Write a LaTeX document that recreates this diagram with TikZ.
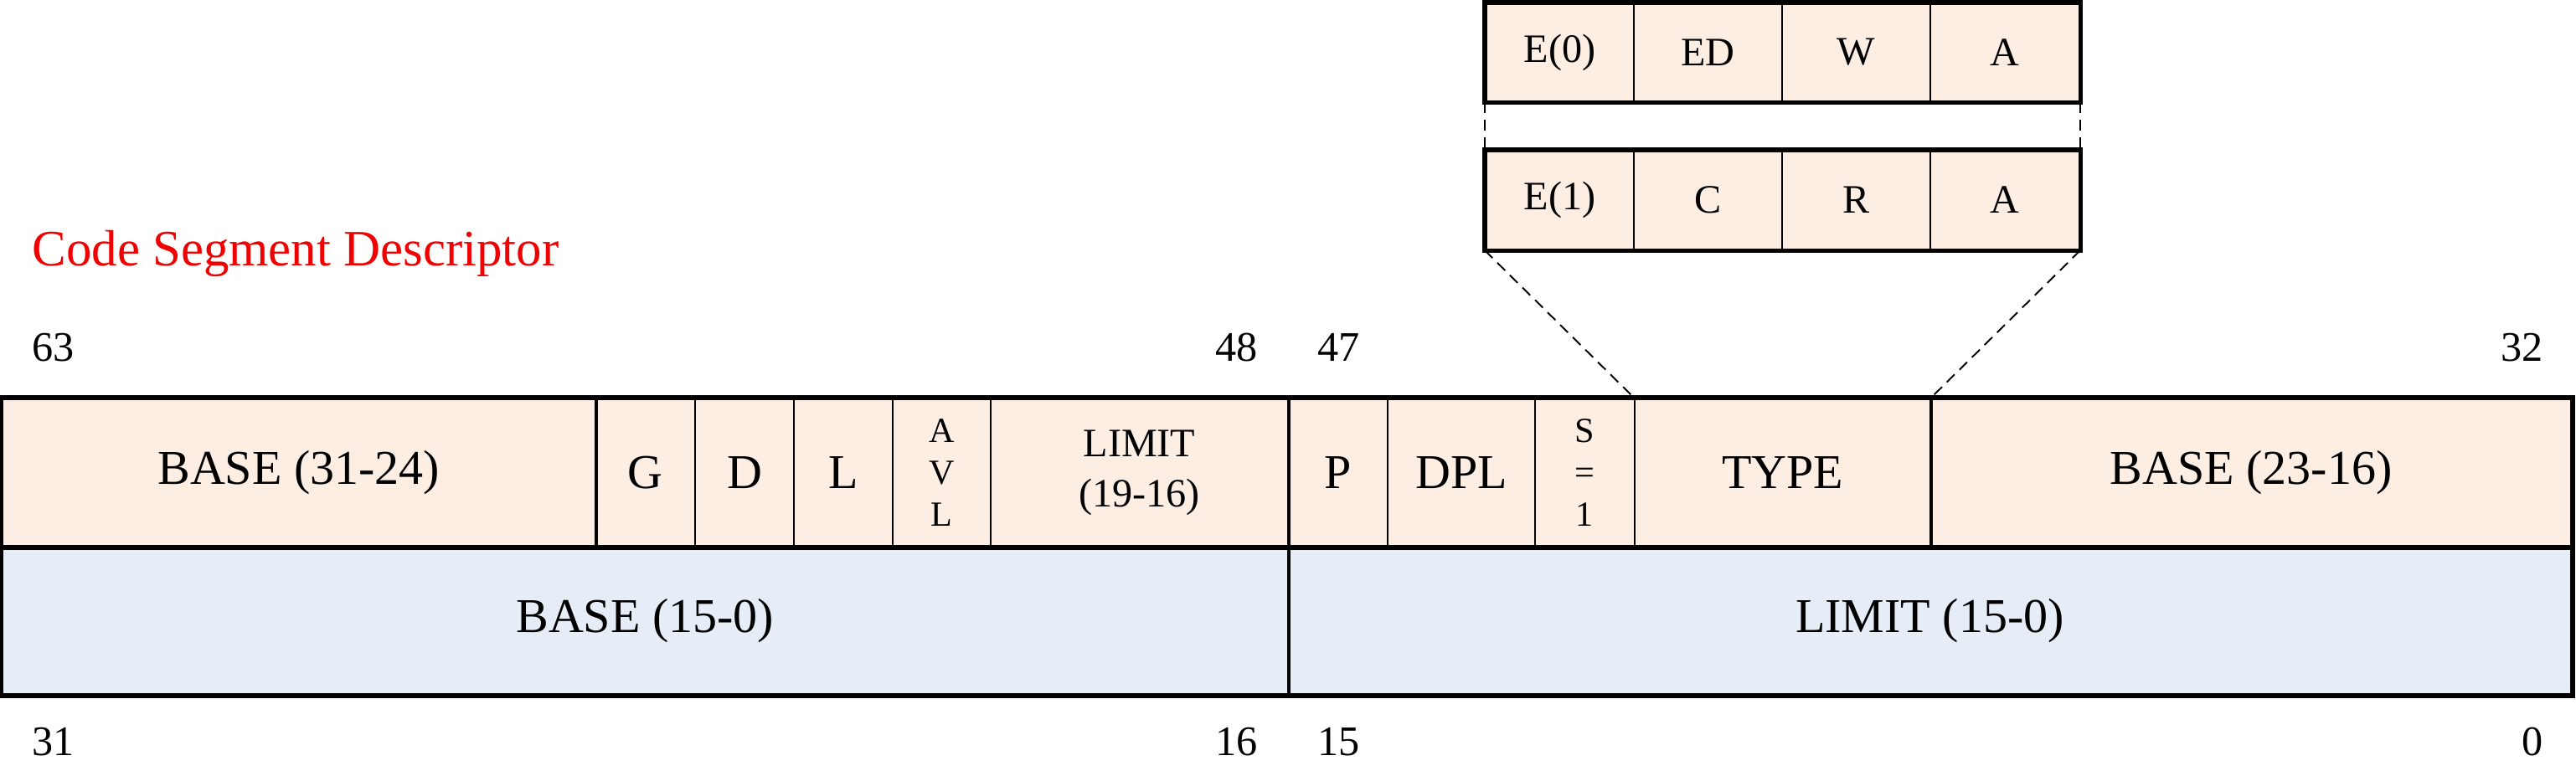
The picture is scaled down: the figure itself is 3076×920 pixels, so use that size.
\documentclass[tikz,border=0pt]{standalone}
\usepackage{fontspec}
\setmainfont{Liberation Serif}
\definecolor{peach}{HTML}{FDEEE3}
\definecolor{paleblue}{HTML}{E6EDF7}
\definecolor{titlered}{HTML}{F00000}
\begin{document}
\begin{tikzpicture}[x=0.01cm,y=-0.01cm,
  cell/.style={draw=black, line width=0.6pt, inner sep=0pt, align=center, font=\fontsize{16.5}{19}\selectfont},
  toprow/.style={cell, fill=peach, minimum height=1.77cm},
  botrow/.style={cell, fill=paleblue, minimum height=1.77cm},
  typecell/.style={cell, fill=peach, font=\fontsize{13.7}{16}\selectfont},
  cw/.style={minimum width=#1*0.01cm},
  ch/.style={minimum height=#1*0.01cm},
  frame/.style={line width=1.5pt},
  smallframe/.style={line width=1.45pt},
  divider/.style={line width=1.2pt},
  zoomline/.style={line width=0.55pt, dash pattern=on 3.7pt off 2.3pt},
  bitlabel/.style={inner sep=0pt, font=\fontsize{14.3}{17}\selectfont},
  ]
\useasboundingbox (0,0) rectangle (3076,920);

% title
\node[anchor=base west, inner sep=0pt, text=titlered, font=\fontsize{17.3}{20}\selectfont] (title) at (38,317) {Code Segment Descriptor};

% top row
\node[toprow, cw=708.5] (b3124) at (356.75,564.5) {BASE (31-24)};
\node[toprow, cw=119] (g) at (770.5,564.5) {G};
\node[toprow, cw=118] (d) at (889,564.5) {D};
\node[toprow, cw=118] (l) at (1007,564.5) {L};
\node[toprow, cw=117, font=\fontsize{12}{14.2}\selectfont] (avl) at (1124.5,564.5) {A\\V\\L};
\node[toprow, cw=355, font=\fontsize{13.7}{17}\selectfont] (l1916) at (1360.5,564.5) {LIMIT\\(19-16)};
\node[toprow, cw=119] (p) at (1597.5,564.5) {P};
\node[toprow, cw=176] (dpl) at (1745,564.5) {DPL};
\node[toprow, cw=119, font=\fontsize{12}{14.2}\selectfont] (s) at (1892.5,564.5) {S\\=\\1};
\node[toprow, cw=353] (type) at (2128.5,564.5) {TYPE};
\node[toprow, cw=766] (b2316) at (2688,564.5) {BASE (23-16)};

% bottom row
\node[botrow, cw=1535.5] (b150) at (770.25,741.5) {BASE (15-0)};
\node[botrow, cw=1533] (l150) at (2304.5,741.5) {LIMIT (15-0)};

% frames and thick dividers
\draw[frame] (b3124.north west) rectangle (l150.south east);
\draw[frame] (b3124.south west) -- (b2316.south east);
\draw[divider] (b3124.north east) -- (b3124.south east);
\draw[divider] (l1916.north east) -- (b150.south east);
\draw[divider] (type.north east) -- (type.south east);

% type detail boxes
\node[typecell, cw=177, ch=117] (e0) at (1862.5,62.5) {E(0)};
\node[typecell, cw=177, ch=117] (ed) at (2039.5,62.5) {ED};
\node[typecell, cw=177, ch=117] (w) at (2216.5,62.5) {W};
\node[typecell, cw=178, ch=117] (a0) at (2394,62.5) {A};
\node[typecell, cw=177, ch=118] (e1) at (1862.5,239) {E(1)};
\node[typecell, cw=177, ch=118] (c) at (2039.5,239) {C};
\node[typecell, cw=177, ch=118] (r) at (2216.5,239) {R};
\node[typecell, cw=178, ch=118] (a1) at (2394,239) {A};
\draw[smallframe] (e0.north west) rectangle (a0.south east);
\draw[smallframe] (e1.north west) rectangle (a1.south east);

% dashed zoom lines
\draw[zoomline] (e0.south west) -- (e1.north west);
\draw[zoomline] (a0.south east) -- (a1.north east);
\draw[zoomline] (e1.south west) -- (type.north west);
\draw[zoomline] (a1.south east) -- (type.north east);

% bit labels
\node[bitlabel, anchor=west] (n63) at (38,415) {63};
\node[bitlabel, anchor=east] (n48) at (1502,415) {48};
\node[bitlabel, anchor=west] (n47) at (1573,415) {47};
\node[bitlabel, anchor=east] (n32) at (3037,415) {32};
\node[bitlabel, anchor=west] (n31) at (38,886) {31};
\node[bitlabel, anchor=east] (n16) at (1502,886) {16};
\node[bitlabel, anchor=west] (n15) at (1573,886) {15};
\node[bitlabel, anchor=east] (n0) at (3037,886) {0};
\end{tikzpicture}
\end{document}
